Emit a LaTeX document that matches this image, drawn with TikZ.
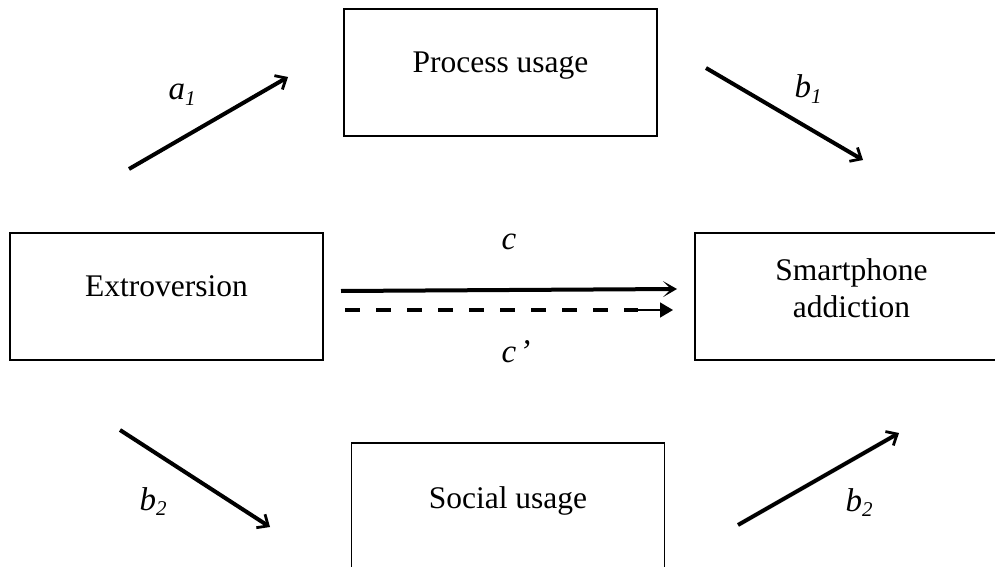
\documentclass[tikz,border=0pt]{standalone}
\usepackage{fontspec}
\setmainfont{Liberation Serif}
\usetikzlibrary{arrows.meta}
\begin{document}
\begin{tikzpicture}[x=1pt,y=-1pt,
  box/.style={draw, line width=1.7pt, minimum width=313pt, minimum height=127pt, inner sep=0pt},
  boxtext/.style={font=\fontsize{31.5}{37}\selectfont, anchor=base, inner sep=0pt},
  coef/.style={font=\fontsize{33}{33}\selectfont\itshape, anchor=base, inner sep=0pt},
  patharrow/.style={line width=4pt, -{Straight Barb[length=9pt,width=16pt,line width=2.8pt]}},
  directarrow/.style={line width=4pt, -{Stealth[length=14pt,width=16pt,inset=8pt]}},
  indirectline/.style={line width=3.3pt, dash pattern=on 15pt off 16pt},
  indirecttip/.style={line width=1.5pt, -{Triangle[length=13pt,width=15pt]}},
]
\useasboundingbox (0,0) rectangle (995,567);
\clip (0,0) rectangle (995,567);

% variables
\node[box] (proc) at (500.5,72.5) {};
\node[boxtext] (procT) at (500.5,73) {Process usage};

\node[box] (ext) at (166.5,296.5) {};
\node[boxtext] (extT) at (166.5,296) {Extroversion};

\node[box] (phone) at (851.5,296.5) {};
\node[boxtext] (phoneT1) at (851.5,280) {Smartphone};
\node[boxtext] (phoneT2) at (851.5,317) {addiction};

\node[box] (soc) at (508,506.5) {};
\node[boxtext] (socT) at (508,508) {Social usage};

% path end points
\coordinate (a1s) at (129,169);  \coordinate (a1e) at (288,77);
\coordinate (b1s) at (706,68);   \coordinate (b1e) at (863,160);
\coordinate (cs)  at (341,291);  \coordinate (ce)  at (677,289);
\coordinate (dps) at (345,310);  \coordinate (dpm) at (638,310);
\coordinate (dpe) at (673,310);
\coordinate (b2s) at (120,430);  \coordinate (b2e) at (270,527);
\coordinate (b3s) at (738,525);  \coordinate (b3e) at (899,433);

% paths
\draw[patharrow] (a1s) -- (a1e);
\draw[patharrow] (b1s) -- (b1e);
\draw[directarrow] (cs) -- (ce);
\draw[indirectline] (dps) -- (dpm);
\draw[indirecttip] (dpm) -- (dpe);
\draw[patharrow] (b2s) -- (b2e);
\draw[patharrow] (b3s) -- (b3e);

% coefficients
\node[coef] (la1) at (182,100) {a\raisebox{-0.18em}{\fontsize{21}{21}\selectfont 1}};
\node[coef] (lb1) at (808,98) {b\raisebox{-0.18em}{\fontsize{21}{21}\selectfont 1}};
\node[coef] (lc) at (509,249) {c};
\node[coef] (lcp) at (516,362) {c\kern3pt’};
\node[coef] (lb2) at (153,510) {b\raisebox{-0.18em}{\fontsize{21}{21}\selectfont 2}};
\node[coef] (lb3) at (859,511) {b\raisebox{-0.18em}{\fontsize{21}{21}\selectfont 2}};
\end{tikzpicture}
\end{document}
